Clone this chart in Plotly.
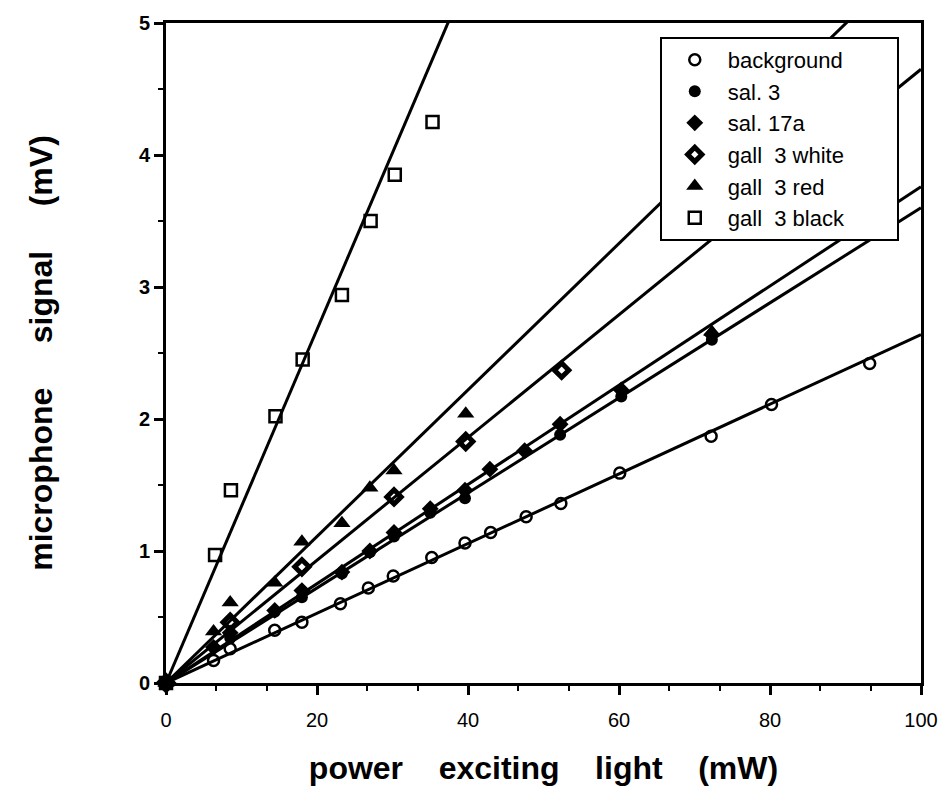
import plotly.graph_objects as go

# ---- data ----
series_names = ["background" + "\u00a0" * 8, "sal. 3", "sal. 17a", "gall\u00a0 3 white", "gall\u00a0 3 red", "gall\u00a0 3 black"]

bg_x = [0, 6.3, 8.5, 14.4, 18.0, 23.1, 26.8, 30.1, 35.2, 39.6, 43.0, 47.7, 52.3, 60.1, 72.2, 80.2, 93.2]
bg_y = [0, 0.17, 0.26, 0.40, 0.46, 0.60, 0.72, 0.81, 0.95, 1.06, 1.14, 1.26, 1.36, 1.59, 1.87, 2.11, 2.42]

sal3_x = [0, 8.5, 14.4, 18.0, 23.3, 27.0, 30.2, 35.0, 39.6, 52.2, 60.3, 72.3]
sal3_y = [0, 0.34, 0.54, 0.65, 0.83, 0.99, 1.11, 1.29, 1.40, 1.88, 2.17, 2.60]

sal17_x = [0, 6.3, 8.5, 14.4, 18.0, 23.3, 27.0, 30.2, 35.0, 39.6, 42.9, 47.5, 52.2, 60.3, 72.3]
sal17_y = [0, 0.27, 0.38, 0.55, 0.70, 0.84, 1.00, 1.14, 1.32, 1.46, 1.62, 1.76, 1.96, 2.22, 2.64]

white_x = [0, 8.5, 18.0, 30.2, 39.7, 52.4]
white_y = [0, 0.46, 0.88, 1.41, 1.83, 2.37]

red_x = [0, 6.3, 8.5, 14.4, 18.0, 23.3, 27.0, 30.2, 39.7, 72.3]
red_y = [0, 0.39, 0.61, 0.76, 1.07, 1.21, 1.48, 1.61, 2.04, 2.66]

black_x = [0, 6.5, 8.6, 14.5, 18.1, 23.3, 27.1, 30.3, 35.3]
black_y = [0, 0.97, 1.46, 2.02, 2.45, 2.94, 3.50, 3.85, 4.25]

# fitted line slopes (mV per mW)
fit_slopes = [0.0264, 0.0360, 0.0376, 0.0465, 0.0555, 0.1339]

x_range = [0, 100]
y_range = [0, 5]
x_ticks = [0, 20, 40, 60, 80, 100]
y_ticks = [0, 1, 2, 3, 4, 5]

xs = [bg_x, sal3_x, sal17_x, white_x, red_x, black_x]
ys = [bg_y, sal3_y, sal17_y, white_y, red_y, black_y]

symbols = ["circle-open", "circle", "diamond", "diamond-open", "triangle-up", "square-open"]
sizes = [11, 12, 13, 11, 15, 12]
line_widths = [2.5, 0, 0, 5, 0, 2.5]

fig = go.Figure()

# fit lines
for s in fit_slopes:
    fig.add_trace(go.Scatter(
        x=[x_range[0], x_range[1]], y=[s * x_range[0], s * x_range[1]],
        mode="lines", line=dict(color="black", width=3),
        showlegend=False, hoverinfo="skip"))

# data markers
for i, name in enumerate(series_names):
    fig.add_trace(go.Scatter(
        x=xs[i], y=ys[i], mode="markers", name=name,
        marker=dict(symbol=symbols[i], size=sizes[i], color="black",
                    line=dict(color="black", width=line_widths[i])),
        cliponaxis=False))

font_family = "Liberation Sans, Arial, sans-serif"
xgap = "\u00a0" * 4
ygap = "\u00a0" * 5

fig.update_layout(
    width=951, height=801,
    margin=dict(l=166, r=30, t=16, b=118),
    paper_bgcolor="white", plot_bgcolor="white",
    font=dict(family=font_family, color="black", size=19),
    legend=dict(
        x=0.654, y=0.979, xanchor="left", yanchor="top",
        bgcolor="white", bordercolor="black", borderwidth=2,
        font=dict(size=22, family=font_family),
        itemwidth=56,
    ),
    xaxis=dict(
        range=x_range, tickvals=x_ticks, showgrid=False, zeroline=False,
        showline=True, linecolor="black", linewidth=3, mirror=True,
        ticks="outside", ticklen=9, tickwidth=2.5, tickcolor="black",
        tickfont=dict(size=20, family=font_family),
        ticklabelstandoff=8,
        minor=dict(dtick=20 / 3, ticks="outside", ticklen=5, tickwidth=2, tickcolor="black", showgrid=False),
        title=dict(text=f"power{xgap}exciting{xgap}light{xgap}(mW)",
                   font=dict(size=32, family=font_family, weight="bold"), standoff=27),
    ),
    yaxis=dict(
        range=y_range, tickvals=y_ticks, showgrid=False, zeroline=False,
        showline=True, linecolor="black", linewidth=3, mirror=True,
        ticks="outside", ticklen=9, tickwidth=2.5, tickcolor="black",
        tickfont=dict(size=20, family=font_family, weight="bold"),
        ticklabelstandoff=0,
        minor=dict(dtick=0.5, ticks="outside", ticklen=5, tickwidth=2, tickcolor="black", showgrid=False),
        title=dict(text=f"microphone{ygap}signal{ygap}(mV)",
                   font=dict(size=32, family=font_family, weight="bold"), standoff=77),
    ),
)

fig.write_html("out.html")
